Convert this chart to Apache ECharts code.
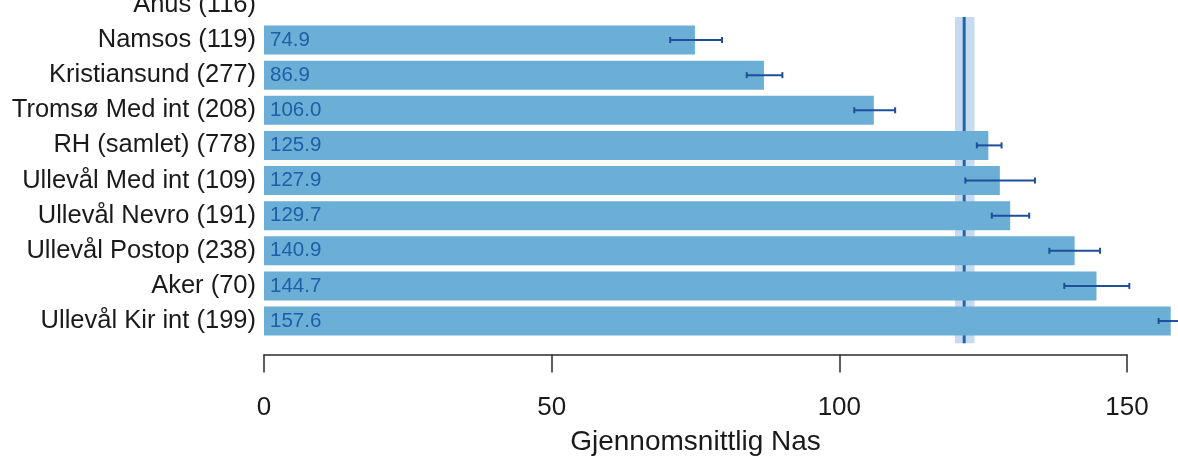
<!DOCTYPE html>
<html>
<head>
<meta charset="utf-8">
<script src="https://cdn.jsdelivr.net/npm/echarts@6/dist/echarts.min.js"></script>
<style>
html,body{margin:0;padding:0;background:#fff;}
#chart{width:1178px;height:456px;}
</style>
</head>
<body>
<div id="chart"></div>
<script>
// Data (top to bottom)
const categories = ["Ahus (116)", "Namsos (119)", "Kristiansund (277)", "Tromsø Med int (208)", "RH (samlet) (778)",
  "Ullevål Med int (109)", "Ullevål Nevro (191)", "Ullevål Postop (238)", "Aker (70)", "Ullevål Kir int (199)"];
const means = [null, 74.9, 86.9, 106.0, 125.9, 127.9, 129.7, 140.9, 144.7, 157.6];
const errLow = [null, 70.6, 83.9, 102.6, 123.9, 121.9, 126.5, 136.5, 139.1, 155.5];
const errHigh = [null, 79.6, 90.1, 109.7, 128.2, 134.0, 133.0, 145.3, 150.4, 159.8];
const refMean = 121.7;
const refLow = 120.1;
const refHigh = 123.5;
const xTicks = [0, 50, 100, 150];
const xTitle = "Gjennomsnittlig Nas";

const FONT = "Liberation Sans, Arial, Helvetica, sans-serif";

const errData = [];
categories.forEach((c, i) => {
  if (errLow[i] != null) errData.push([errLow[i], errHigh[i], i]);
});

const chart = echarts.init(document.getElementById('chart'), null, {renderer: 'canvas'});
chart.setOption({
  animation: false,
  backgroundColor: '#ffffff',
  grid: {left: 264, right: 51, top: -12.7, bottom: 117.4, containLabel: false, outerBoundsMode: 'none'},
  xAxis: {
    type: 'value', min: xTicks[0], max: xTicks[xTicks.length - 1], interval: 50,
    position: 'bottom', offset: 16,
    axisLine: {show: true, lineStyle: {color: '#2b2b2b', width: 1.5}},
    axisTick: {show: true, length: 18, inside: false, lineStyle: {color: '#2b2b2b', width: 1.5}},
    axisLabel: {color: '#1a1a1a', fontSize: 26, fontFamily: FONT, margin: 40},
    splitLine: {show: false},
    name: xTitle, nameLocation: 'middle', nameGap: 74,
    nameTextStyle: {color: '#1a1a1a', fontSize: 28, fontFamily: FONT}
  },
  yAxis: {
    type: 'category', data: categories, inverse: true,
    axisLine: {show: false}, axisTick: {show: false},
    axisLabel: {color: '#1a1a1a', fontSize: 25.5, fontFamily: FONT, margin: 8}
  },
  series: [
    {
      type: 'custom', name: 'ref', z: 1, silent: true,
      data: [[refMean, refLow, refHigh]],
      renderItem: function (params, api) {
        const band = api.size([0, 1])[1];
        const yTop = api.coord([0, 0])[1] + 0.345 * band;
        const yBot = api.coord([0, categories.length - 1])[1] + 0.63 * band;
        const xm = api.coord([api.value(0), 0])[0];
        const xl = api.coord([api.value(1), 0])[0];
        const xh = api.coord([api.value(2), 0])[0];
        return {
          type: 'group', children: [
            {type: 'rect', shape: {x: xl, y: yTop, width: xh - xl, height: yBot - yTop}, style: {fill: '#c6dbef'}},
            {type: 'line', shape: {x1: xm, y1: yTop, x2: xm, y2: yBot}, style: {stroke: '#2166ac', lineWidth: 3}}
          ]
        };
      }
    },
    {
      type: 'bar', name: 'mean', z: 2, clip: false,
      data: means, barWidth: 29,
      itemStyle: {color: '#6baed6'},
      label: {
        show: true, position: 'insideLeft', distance: 6,
        color: '#1f5ea8', fontSize: 20.5, fontFamily: FONT,
        formatter: p => p.value == null ? '' : p.value.toFixed(1)
      }
    },
    {
      type: 'custom', name: 'err', z: 3, silent: true,
      data: errData,
      renderItem: function (params, api) {
        const p1 = api.coord([api.value(0), api.value(2)]);
        const p2 = api.coord([api.value(1), api.value(2)]);
        const h = 3;
        const st = {stroke: '#1f4e9a', lineWidth: 2};
        return {
          type: 'group', children: [
            {type: 'line', shape: {x1: p1[0], y1: p1[1], x2: p2[0], y2: p2[1]}, style: st},
            {type: 'line', shape: {x1: p1[0], y1: p1[1] - h, x2: p1[0], y2: p1[1] + h}, style: st},
            {type: 'line', shape: {x1: p2[0], y1: p2[1] - h, x2: p2[0], y2: p2[1] + h}, style: st}
          ]
        };
      }
    }
  ]
});
</script>
</body>
</html>
